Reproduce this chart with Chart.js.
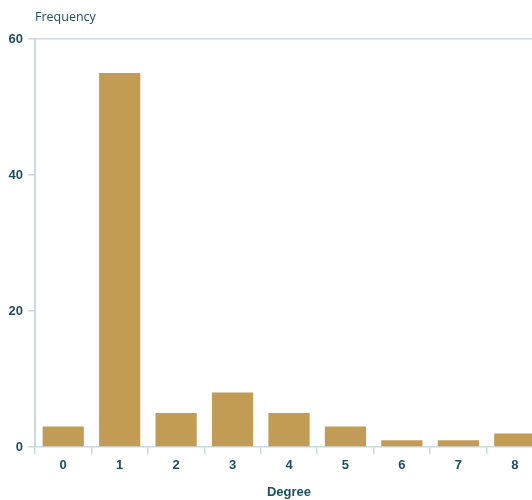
<!DOCTYPE html>
<html>
<head>
<meta charset="utf-8">
<script src="https://cdn.jsdelivr.net/npm/chart.js@4"></script>
<style>
  html, body { margin: 0; padding: 0; background: #fff; overflow: hidden; }
  #wrap { position: relative; width: 543px; height: 500px; }
</style>
</head>
<body>
<div id="wrap"><canvas id="grafico"></canvas></div>
<script>
const grados = ["0", "1", "2", "3", "4", "5", "6", "7", "8"];
const frecuencias = [3, 55, 5, 8, 5, 3, 1, 1, 2];
const ticksY = [0, 20, 40, 60];

const colorTexto = "#1b4f5c";
const colorEje = "#c9dadf";
const fuenteEje = { family: "'Liberation Sans Narrow', 'Liberation Sans', sans-serif", size: 13, weight: "bold" };

// texto "Frequency" arriba del eje y
const etiquetaY = {
  id: "etiquetaY",
  afterDraw(chart) {
    const ctx = chart.ctx;
    ctx.save();
    ctx.font = "12.5px 'Open Sans', sans-serif";
    ctx.fillStyle = colorTexto;
    ctx.textBaseline = "middle";
    ctx.fillText("Frequency", chart.chartArea.left, 17);
    ctx.restore();
  },
};

new Chart(document.getElementById("grafico"), {
  type: "bar",
  data: {
    labels: grados,
    datasets: [{
      data: frecuencias,
      backgroundColor: "#c29b55",
      categoryPercentage: 1,
      barPercentage: 0.73,
    }],
  },
  options: {
    responsive: true,
    maintainAspectRatio: false,
    animation: false,
    layout: { padding: { top: 39, right: 0, left: 0, bottom: 0 } },
    plugins: {
      legend: { display: false },
      tooltip: { enabled: false },
    },
    scales: {
      x: {
        grid: {
          offset: true,
          drawOnChartArea: false,
          tickLength: 7,
          tickColor: colorEje,
          lineWidth: 1.5,
        },
        border: { color: colorEje, width: 1.5 },
        ticks: { color: colorTexto, font: fuenteEje, padding: 4 },
        title: {
          display: true,
          text: "Degree",
          color: colorTexto,
          font: fuenteEje,
          padding: { top: 16, bottom: 0 },
        },
        afterFit(scale) { scale.height = 53; },
      },
      y: {
        min: 0,
        max: 60,
        afterBuildTicks(scale) {
          scale.ticks = ticksY.map((v) => ({ value: v }));
        },
        grid: {
          tickLength: 7,
          tickColor: colorEje,
          lineWidth: 1.5,
          color: (c) => (c.tick && c.tick.value === 60 ? colorEje : "transparent"),
        },
        border: { color: colorEje, width: 2 },
        ticks: { color: colorTexto, font: fuenteEje, padding: 5 },
        afterFit(scale) { scale.width = 35; },
      },
    },
  },
  plugins: [etiquetaY],
});
</script>
</body>
</html>
